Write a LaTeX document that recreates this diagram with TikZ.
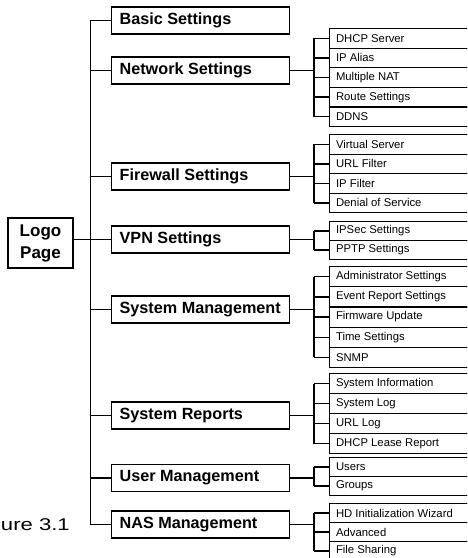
\documentclass[tikz,border=0pt]{standalone}
\usepackage{fontspec}
\setmainfont{Liberation Sans}
\usepackage{graphicx}
\begin{document}
\begin{tikzpicture}[x=1pt,y=-1pt,
  conn/.style={line width=1.4pt},
  mainbox/.style={draw, line width=1.3pt, anchor=west, minimum width=178pt, minimum height=27pt,
    inner xsep=8pt, inner ysep=0pt,
    font=\fontsize{16.2}{18}\selectfont\bfseries},
  subbox/.style={draw, line width=1.1pt, anchor=north west, minimum width=153pt,
    inner xsep=6.5pt, inner ysep=0pt,
    font=\fontsize{11.3}{13}\selectfont}
]
\useasboundingbox (0,0) rectangle (467,558);
\clip (0,0) rectangle (467,558);
\newcommand\mtxt[1]{\makebox[162pt][l]{#1}}
\newcommand\stxt[1]{\makebox[140pt][l]{#1}}

% Logo
\node[draw, line width=1.3pt, minimum width=65pt, minimum height=50pt, inner sep=0pt,
  align=center, font=\fontsize{17}{22}\selectfont\bfseries] (logo) at (40.5,243) {Logo\\Page};

% main boxes
\node[mainbox] (basic) at (111,20.5) {\mtxt{Basic Settings}};
\node[mainbox] (net)   at (111,70.5) {\mtxt{Network Settings}};
\node[mainbox] (fw)    at (111,176.5) {\mtxt{Firewall Settings}};
\node[mainbox] (vpn)   at (111,239.5) {\mtxt{VPN Settings}};
\node[mainbox] (sysm)  at (111,309.5) {\mtxt{System Management}};
\node[mainbox] (sysr)  at (111,415.5) {\mtxt{System Reports}};
\node[mainbox] (user)  at (111,478) {\mtxt{User Management}};
\node[mainbox] (nas)   at (111,524.5) {\mtxt{NAS Management}};

% trunk
\coordinate (tr) at (90.5,0);
\draw[conn] (basic.west) -- (basic.west -| tr) -- (nas.west -| tr) -- (nas.west);
\foreach \n in {net,fw,vpn,sysm,sysr,user}
  \draw[conn] (\n.west -| tr) -- (\n.west);
\draw[conn] (logo.east |- vpn.west) -- (vpn.west -| tr);

% sub bracket x
\coordinate (br) at (314,0);

% Network
\foreach \t [count=\i from 0] in {DHCP Server,IP Alias,Multiple NAT,Route Settings,DDNS}
  \node[subbox, minimum height=19.6pt] (n\i) at (329,28+\i*19.6) {\stxt{\t}};
\draw[conn] (net.east) -- (net.east -| br);
\draw[conn] (n0.west -| br) -- (n4.west -| br);
\foreach \i in {0,...,4} \draw[conn] (n\i.west -| br) -- (n\i.west);

% Firewall
\foreach \t [count=\i from 0] in {Virtual Server,URL Filter,IP Filter,Denial of Service}
  \node[subbox, minimum height=19.5pt] (f\i) at (329,134+\i*19.5) {\stxt{\t}};
\draw[conn] (fw.east) -- (fw.east -| br);
\draw[conn] (f0.west -| br) -- (f3.west -| br);
\foreach \i in {0,...,3} \draw[conn] (f\i.west -| br) -- (f\i.west);

% VPN
\foreach \t [count=\i from 0] in {IPSec Settings,PPTP Settings}
  \node[subbox, minimum height=19pt] (v\i) at (329,221+\i*19) {\stxt{\t}};
\draw[conn] (vpn.east) -- (vpn.east -| br);
\draw[conn] (v0.west -| br) -- (v1.west -| br);
\foreach \i in {0,1} \draw[conn] (v\i.west -| br) -- (v\i.west);

% System Management
\foreach \t [count=\i from 0] in {Administrator Settings,Event Report Settings,Firmware Update,Time Settings,SNMP}
  \node[subbox, minimum height=20.2pt] (m\i) at (329,266+\i*20.2) {\stxt{\t}};
\draw[conn] (sysm.east) -- (sysm.east -| br);
\draw[conn] (m0.west -| br) -- (m4.west -| br);
\foreach \i in {0,...,4} \draw[conn] (m\i.west -| br) -- (m\i.west);

% System Reports
\foreach \t [count=\i from 0] in {System Information,System Log,URL Log,DHCP Lease Report}
  \node[subbox, minimum height=20pt] (r\i) at (329,373+\i*20) {\stxt{\t}};
\draw[conn] (sysr.east) -- (sysr.east -| br);
\draw[conn] (r0.west -| br) -- (r3.west -| br);
\foreach \i in {0,...,3} \draw[conn] (r\i.west -| br) -- (r\i.west);

% User Management
\foreach \t [count=\i from 0] in {Users,Groups}
  \node[subbox, minimum height=19pt] (u\i) at (329,457+\i*19) {\stxt{\t}};
\draw[conn] (user.east) -- (user.east -| br);
\draw[conn] (u0.west -| br) -- (u1.west -| br);
\foreach \i in {0,1} \draw[conn] (u\i.west -| br) -- (u\i.west);

% NAS Management
\foreach \t [count=\i from 0] in {HD Initialization Wizard,Advanced,File Sharing}
  \node[subbox, minimum height=19pt] (a\i) at (329,503+\i*19) {\stxt{\t}};
\draw[conn] (nas.east) -- (nas.east -| br);
\draw[conn] (a0.west -| br) -- (a2.west -| br);
\foreach \i in {0,...,2} \draw[conn] (a\i.west -| br) -- (a\i.west);

% caption fragment
\node[anchor=base west, inner sep=0pt, font=\fontsize{17}{20}\selectfont] (fig) at (0.8,530)
  {\scalebox{1.3}[1]{ure 3.1}};
\end{tikzpicture}
\end{document}
